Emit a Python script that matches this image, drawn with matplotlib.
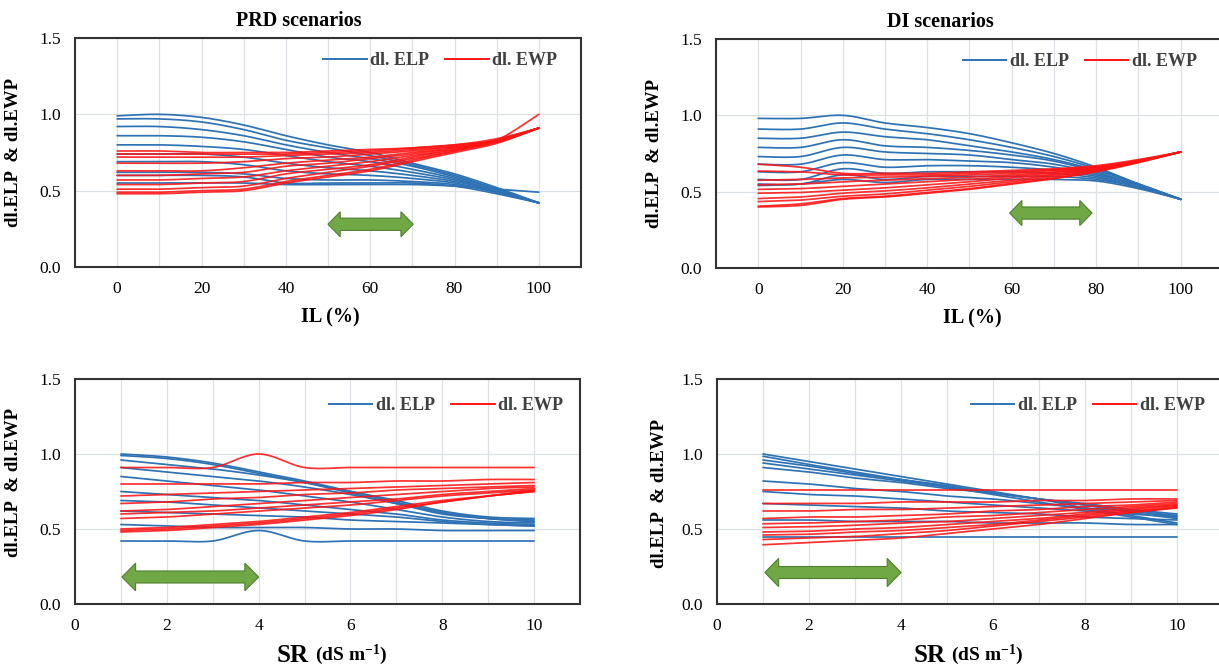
import numpy as np
import matplotlib
matplotlib.use("Agg")
import matplotlib.pyplot as plt
from matplotlib.patches import Polygon
from matplotlib.lines import Line2D
from matplotlib.ticker import MultipleLocator, FormatStrFormatter

plt.rcParams['font.family'] = ['Liberation Serif', 'DejaVu Serif']
plt.rcParams['mathtext.fontset'] = 'custom'
plt.rcParams['mathtext.rm'] = 'Liberation Serif'
plt.rcParams['mathtext.bf'] = 'Liberation Serif:bold'
plt.rcParams['mathtext.it'] = 'Liberation Serif:italic'

# ---------------- data ----------------
il = [0, 10, 20, 30, 40, 50, 60, 70, 80, 90, 100]
sr = [1, 2, 3, 4, 5, 6, 7, 8, 9, 10]

prd_il_elp = [
    [0.99, 1.00, 0.98, 0.93, 0.86, 0.80, 0.75, 0.68, 0.61, 0.52, 0.42],
    [0.97, 0.97, 0.95, 0.90, 0.83, 0.78, 0.73, 0.67, 0.60, 0.51, 0.42],
    [0.92, 0.92, 0.90, 0.86, 0.80, 0.75, 0.71, 0.66, 0.59, 0.51, 0.42],
    [0.86, 0.86, 0.85, 0.82, 0.77, 0.72, 0.69, 0.64, 0.58, 0.50, 0.42],
    [0.80, 0.80, 0.79, 0.77, 0.73, 0.69, 0.66, 0.62, 0.57, 0.50, 0.42],
    [0.74, 0.74, 0.74, 0.72, 0.68, 0.65, 0.63, 0.60, 0.56, 0.50, 0.42],
    [0.69, 0.69, 0.69, 0.67, 0.63, 0.61, 0.60, 0.58, 0.55, 0.49, 0.42],
    [0.62, 0.62, 0.62, 0.61, 0.58, 0.57, 0.57, 0.56, 0.54, 0.49, 0.42],
    [0.60, 0.60, 0.60, 0.59, 0.55, 0.55, 0.55, 0.55, 0.53, 0.48, 0.42],
    [0.55, 0.55, 0.55, 0.55, 0.54, 0.54, 0.54, 0.54, 0.53, 0.51, 0.49],
]
prd_il_ewp = [
    [0.76, 0.76, 0.75, 0.75, 0.75, 0.76, 0.77, 0.78, 0.80, 0.84, 0.91],
    [0.74, 0.74, 0.74, 0.74, 0.74, 0.75, 0.76, 0.78, 0.80, 0.83, 0.91],
    [0.72, 0.72, 0.72, 0.72, 0.73, 0.74, 0.75, 0.77, 0.79, 0.83, 0.91],
    [0.68, 0.68, 0.68, 0.69, 0.71, 0.72, 0.74, 0.76, 0.79, 0.83, 0.91],
    [0.63, 0.63, 0.63, 0.65, 0.68, 0.70, 0.72, 0.75, 0.78, 0.83, 0.91],
    [0.60, 0.60, 0.61, 0.62, 0.66, 0.68, 0.71, 0.74, 0.78, 0.82, 0.91],
    [0.57, 0.57, 0.58, 0.59, 0.63, 0.66, 0.69, 0.73, 0.77, 0.82, 0.91],
    [0.54, 0.54, 0.55, 0.56, 0.61, 0.64, 0.67, 0.72, 0.77, 0.82, 0.91],
    [0.51, 0.51, 0.52, 0.53, 0.58, 0.62, 0.66, 0.71, 0.76, 0.82, 0.91],
    [0.49, 0.49, 0.50, 0.51, 0.56, 0.60, 0.64, 0.70, 0.76, 0.83, 1.00],
    [0.48, 0.48, 0.49, 0.50, 0.55, 0.59, 0.63, 0.69, 0.75, 0.81, 0.91],
]

di_il_elp = [
    [0.98, 0.98, 1.00, 0.95, 0.92, 0.88, 0.82, 0.75, 0.66, 0.55, 0.45],
    [0.91, 0.91, 0.95, 0.91, 0.88, 0.84, 0.79, 0.73, 0.65, 0.55, 0.45],
    [0.85, 0.85, 0.89, 0.86, 0.84, 0.80, 0.76, 0.71, 0.64, 0.55, 0.45],
    [0.79, 0.79, 0.84, 0.80, 0.79, 0.77, 0.74, 0.70, 0.63, 0.54, 0.45],
    [0.73, 0.73, 0.79, 0.76, 0.75, 0.74, 0.71, 0.68, 0.62, 0.54, 0.45],
    [0.68, 0.68, 0.74, 0.71, 0.71, 0.70, 0.69, 0.66, 0.61, 0.54, 0.45],
    [0.63, 0.63, 0.69, 0.66, 0.67, 0.67, 0.66, 0.64, 0.60, 0.53, 0.45],
    [0.58, 0.58, 0.65, 0.62, 0.63, 0.63, 0.63, 0.62, 0.59, 0.53, 0.45],
    [0.55, 0.55, 0.61, 0.58, 0.60, 0.60, 0.60, 0.60, 0.58, 0.53, 0.45],
    [0.54, 0.55, 0.58, 0.56, 0.58, 0.58, 0.58, 0.58, 0.57, 0.52, 0.45],
]
di_il_ewp = [
    [0.68, 0.66, 0.62, 0.62, 0.62, 0.63, 0.64, 0.65, 0.67, 0.71, 0.76],
    [0.635, 0.63, 0.61, 0.61, 0.61, 0.62, 0.63, 0.645, 0.665, 0.705, 0.76],
    [0.575, 0.58, 0.59, 0.595, 0.60, 0.61, 0.62, 0.64, 0.66, 0.70, 0.76],
    [0.545, 0.55, 0.565, 0.575, 0.585, 0.595, 0.61, 0.63, 0.66, 0.70, 0.76],
    [0.515, 0.52, 0.535, 0.55, 0.565, 0.58, 0.60, 0.625, 0.655, 0.70, 0.76],
    [0.49, 0.495, 0.51, 0.525, 0.545, 0.565, 0.59, 0.615, 0.65, 0.70, 0.76],
    [0.455, 0.465, 0.49, 0.505, 0.525, 0.55, 0.575, 0.61, 0.645, 0.70, 0.76],
    [0.435, 0.445, 0.47, 0.485, 0.51, 0.535, 0.565, 0.60, 0.64, 0.695, 0.76],
    [0.405, 0.42, 0.455, 0.47, 0.495, 0.52, 0.555, 0.59, 0.635, 0.695, 0.76],
    [0.40, 0.41, 0.45, 0.465, 0.49, 0.515, 0.55, 0.585, 0.63, 0.69, 0.76],
]

prd_sr_elp = [
    [1.00, 0.98, 0.94, 0.88, 0.82, 0.75, 0.68, 0.61, 0.57, 0.55],
    [0.99, 0.97, 0.93, 0.87, 0.81, 0.74, 0.67, 0.60, 0.57, 0.56],
    [0.96, 0.93, 0.90, 0.86, 0.81, 0.75, 0.69, 0.62, 0.58, 0.57],
    [0.91, 0.88, 0.85, 0.82, 0.78, 0.73, 0.67, 0.61, 0.57, 0.55],
    [0.85, 0.82, 0.79, 0.76, 0.72, 0.68, 0.63, 0.58, 0.55, 0.54],
    [0.75, 0.73, 0.71, 0.69, 0.66, 0.63, 0.60, 0.56, 0.54, 0.53],
    [0.69, 0.68, 0.66, 0.64, 0.62, 0.60, 0.58, 0.55, 0.53, 0.52],
    [0.62, 0.61, 0.60, 0.59, 0.58, 0.56, 0.55, 0.54, 0.53, 0.52],
    [0.53, 0.52, 0.51, 0.51, 0.51, 0.50, 0.50, 0.49, 0.49, 0.49],
    [0.42, 0.42, 0.42, 0.49, 0.42, 0.42, 0.42, 0.42, 0.42, 0.42],
]
prd_sr_ewp = [
    [0.91, 0.91, 0.91, 1.00, 0.91, 0.91, 0.91, 0.91, 0.91, 0.91],
    [0.80, 0.80, 0.80, 0.80, 0.81, 0.81, 0.82, 0.82, 0.83, 0.83],
    [0.72, 0.73, 0.74, 0.75, 0.76, 0.77, 0.78, 0.79, 0.80, 0.81],
    [0.67, 0.68, 0.70, 0.71, 0.73, 0.74, 0.76, 0.77, 0.78, 0.79],
    [0.62, 0.63, 0.65, 0.67, 0.69, 0.71, 0.73, 0.75, 0.77, 0.78],
    [0.60, 0.61, 0.62, 0.64, 0.66, 0.68, 0.70, 0.73, 0.75, 0.77],
    [0.57, 0.58, 0.60, 0.62, 0.64, 0.66, 0.69, 0.72, 0.74, 0.76],
    [0.50, 0.51, 0.53, 0.55, 0.58, 0.61, 0.65, 0.69, 0.72, 0.75],
    [0.49, 0.50, 0.52, 0.54, 0.57, 0.60, 0.64, 0.68, 0.72, 0.75],
    [0.48, 0.49, 0.51, 0.53, 0.56, 0.59, 0.63, 0.68, 0.72, 0.76],
]

di_sr_elp = [
    [1.00, 0.95, 0.90, 0.85, 0.80, 0.75, 0.70, 0.64, 0.59, 0.54],
    [0.985, 0.93, 0.88, 0.83, 0.78, 0.73, 0.68, 0.63, 0.58, 0.53],
    [0.96, 0.92, 0.87, 0.83, 0.79, 0.74, 0.70, 0.66, 0.61, 0.57],
    [0.94, 0.90, 0.86, 0.82, 0.78, 0.74, 0.70, 0.66, 0.62, 0.58],
    [0.91, 0.88, 0.84, 0.81, 0.77, 0.74, 0.70, 0.67, 0.63, 0.60],
    [0.82, 0.80, 0.77, 0.75, 0.72, 0.70, 0.67, 0.64, 0.62, 0.59],
    [0.75, 0.73, 0.72, 0.70, 0.68, 0.66, 0.64, 0.62, 0.60, 0.58],
    [0.67, 0.66, 0.65, 0.64, 0.62, 0.61, 0.60, 0.58, 0.57, 0.56],
    [0.56, 0.56, 0.55, 0.55, 0.55, 0.54, 0.54, 0.54, 0.53, 0.53],
    [0.45, 0.45, 0.45, 0.45, 0.45, 0.45, 0.45, 0.45, 0.45, 0.45],
]
di_sr_ewp = [
    [0.76, 0.76, 0.76, 0.76, 0.76, 0.76, 0.76, 0.76, 0.76, 0.76],
    [0.67, 0.67, 0.67, 0.68, 0.68, 0.68, 0.69, 0.69, 0.70, 0.70],
    [0.62, 0.62, 0.63, 0.63, 0.64, 0.65, 0.66, 0.67, 0.68, 0.69],
    [0.57, 0.58, 0.58, 0.59, 0.60, 0.62, 0.63, 0.65, 0.66, 0.68],
    [0.535, 0.54, 0.55, 0.56, 0.58, 0.59, 0.61, 0.63, 0.65, 0.67],
    [0.51, 0.515, 0.525, 0.54, 0.55, 0.57, 0.59, 0.61, 0.64, 0.66],
    [0.48, 0.485, 0.50, 0.51, 0.53, 0.55, 0.57, 0.60, 0.63, 0.66],
    [0.46, 0.465, 0.48, 0.49, 0.51, 0.53, 0.56, 0.59, 0.62, 0.65],
    [0.43, 0.44, 0.45, 0.47, 0.49, 0.52, 0.55, 0.58, 0.61, 0.64],
    [0.395, 0.41, 0.425, 0.44, 0.47, 0.50, 0.53, 0.57, 0.61, 0.645],
]

titles = ["PRD scenarios", "DI scenarios"]
legend_labels = ["dl. ELP", "dl. EWP"]
ylabel = "dl.ELP  & dl.EWP"

# ---------------- style ----------------
BLUE = "#2E72B4"
RED = "#FF1414"
GREEN = "#6FA845"
GREEN_EDGE = "#4E7F2E"
TXT = "#404040"


def smooth(x, y, n=20):
    """Excel-like smoothed line (Bezier through points, tension 1/6)."""
    P = np.column_stack([x, y]).astype(float)
    m = len(P)
    out = [P[0:1]]
    t = np.linspace(0, 1, n + 1)[1:, None]
    for i in range(m - 1):
        p0, p3 = P[i], P[i + 1]
        pm = P[i - 1] if i > 0 else P[i]
        pp = P[i + 2] if i + 2 < m else P[i + 1]
        c1 = p0 + (p3 - pm) / 6.0
        c2 = p3 - (pp - p0) / 6.0
        seg = ((1 - t) ** 3) * p0 + 3 * ((1 - t) ** 2) * t * c1 + 3 * (1 - t) * t ** 2 * c2 + t ** 3 * p3
        out.append(seg)
    Q = np.vstack(out)
    return Q[:, 0], Q[:, 1]


def darrow(ax, x0, x1, y, shaft, head, hlen):
    xs = [x0, x0 + hlen, x0 + hlen, x1 - hlen, x1 - hlen, x1, x1 - hlen, x1 - hlen, x0 + hlen, x0 + hlen]
    ys = [y, y + head, y + shaft, y + shaft, y + head, y, y - head, y - shaft, y - shaft, y - head]
    ax.add_patch(Polygon(np.column_stack([xs, ys]), closed=True, facecolor=GREEN,
                         edgecolor=GREEN_EDGE, lw=0.8, zorder=5))


W, H = 1219, 667
fig = plt.figure(figsize=(W / 100, H / 100), dpi=100)


def px_axes(left, top, right, bottom):
    return fig.add_axes([left / W, 1 - bottom / H, (right - left) / W, (bottom - top) / H])


axes = [
    px_axes(75, 38, 581, 267),
    px_axes(716, 39, 1223, 268),
    px_axes(75, 379, 580, 604),
    px_axes(717, 379, 1223, 604),
]

panels = [
    (il, prd_il_elp, prd_il_ewp),
    (il, di_il_elp, di_il_ewp),
    (sr, prd_sr_elp, prd_sr_ewp),
    (sr, di_sr_elp, di_sr_ewp),
]

arrows = [  # x0, x1, y, shaft half-height, head half-height, head length
    (50, 70.2, 0.28, 0.040, 0.082, 2.9),
    (59.5, 79, 0.36, 0.040, 0.082, 2.9),
    (1.02, 4.0, 0.18, 0.040, 0.092, 0.30),
    (1.04, 4.0, 0.21, 0.040, 0.094, 0.30),
]

legend_pos = [(0.722, 0.90), (0.718, 0.90), (0.735, 0.88), (0.733, 0.88)]
ylabel_pos = [(-0.105, 0.50), (-0.105, 0.50), (-0.105, 0.54), (-0.097, 0.49)]

for k, ax in enumerate(axes):
    xs, elp, ewp = panels[k]
    for line in elp:
        sx, sy = smooth(xs, line)
        ax.plot(sx, sy, color=BLUE, lw=1.25, solid_capstyle='round', zorder=3)
    for line in ewp:
        sx, sy = smooth(xs, line)
        ax.plot(sx, sy, color=RED, lw=1.25, alpha=0.88, solid_capstyle='round', zorder=4)

    ax.set_ylim(0, 1.5)
    ax.yaxis.set_major_locator(MultipleLocator(0.5))
    ax.yaxis.set_major_formatter(FormatStrFormatter('%.1f'))
    if k < 2:
        ax.set_xlim(-10, 110)
        ax.xaxis.set_minor_locator(MultipleLocator(10))
        ax.set_xticks([0, 20, 40, 60, 80, 100])
    else:
        ax.set_xlim(0, 11)
        ax.xaxis.set_major_locator(MultipleLocator(2))
        ax.xaxis.set_minor_locator(MultipleLocator(1))
    ax.grid(which='both', color='#DDE1E6', lw=0.9)
    ax.set_axisbelow(True)
    ax.tick_params(which='both', length=0, labelsize=12.5, colors='black')
    ax.tick_params(axis='y', pad=10)
    ax.tick_params(axis='x', pad=10)
    for s in ax.spines.values():
        s.set_color('#333333')
        s.set_linewidth(1.5)

    x0, x1, y, sh, hh, hl = arrows[k]
    darrow(ax, x0, x1, y, sh, hh, hl)

    handles = [Line2D([], [], color=BLUE, lw=1.4), Line2D([], [], color=RED, lw=1.4)]
    leg = ax.legend(handles, legend_labels, loc='center', bbox_to_anchor=legend_pos[k], ncol=2,
                    frameon=False, handlelength=2.4, handletextpad=0.2, columnspacing=0.9,
                    prop={'family': 'Liberation Serif', 'weight': 'bold', 'size': 13})
    for t in leg.get_texts():
        t.set_color(TXT)

    ax.set_ylabel(ylabel, fontsize=13.5, fontweight='bold')
    ax.yaxis.set_label_coords(*ylabel_pos[k])

    if k < 2:
        ax.set_xlabel("IL (%)", fontsize=14.5, fontweight='bold')
        ax.xaxis.set_label_coords(0.505, -0.175)
    else:
        xstart = 0.40 if k == 2 else 0.388
        t1 = ax.text(xstart, -0.228, "SR", transform=ax.transAxes, ha='left', va='center',
                     fontsize=18, fontweight='bold')
        ax.annotate(r"(dS m$^{\mathbf{-1}}$)", xy=(1, 0), xycoords=t1, xytext=(4, 0),
                    textcoords='offset points', ha='left', va='bottom', fontsize=14,
                    fontweight='bold')

fig.text(299 / W, 1 - 21 / H, titles[0], ha='center', va='center', fontsize=14.5, fontweight='bold')
fig.text(940 / W, 1 - 22 / H, titles[1], ha='center', va='center', fontsize=14.5, fontweight='bold')

fig.savefig("out.png", dpi=100)
